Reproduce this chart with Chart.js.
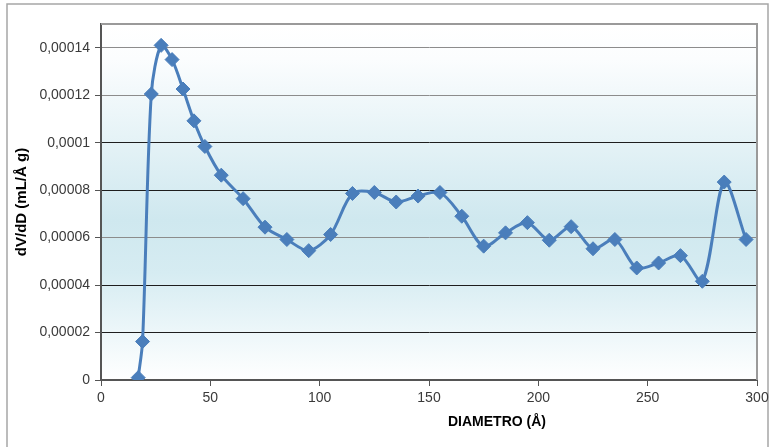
<!DOCTYPE html>
<html lang="es">
<head>
<meta charset="UTF-8" />
<title>Distribución de tamaño de poro</title>
<script src="https://cdn.jsdelivr.net/npm/chart.js"></script>
<style>
  body { margin: 0; background: #fff; }
  #caja { width: 770px; height: 447px; position: relative; }
</style>
</head>
<body>
<div id="caja"><canvas id="grafico"></canvas></div>
<script>
// Diámetro de poro (Å)
const diametro = [17, 19, 23, 27.5, 32.5, 37.5, 42.5, 47.5, 55, 65, 75, 85, 95, 105, 115, 125, 135, 145, 155, 165,
  175, 185, 195, 205, 215, 225, 235, 245, 255, 265, 275, 285, 295];
// dV/dD (mL/Å g)
const dVdD = [0.000001, 0.0000162, 0.0001205, 0.000141, 0.000135, 0.0001226, 0.0001092, 0.0000984, 0.0000863,
  0.0000764, 0.0000644, 0.0000592, 0.0000545, 0.0000613, 0.0000786, 0.000079, 0.000075, 0.0000775, 0.000079,
  0.000069, 0.0000564, 0.000062, 0.0000663, 0.0000589, 0.0000646, 0.0000553, 0.0000592, 0.0000472, 0.0000493,
  0.0000524, 0.0000416, 0.0000834, 0.0000592];
const ticksY = [0, 0.00002, 0.00004, 0.00006, 0.00008, 0.0001, 0.00012, 0.00014];
const ticksX = [0, 50, 100, 150, 200, 250, 300];

Chart.defaults.font.family = "'Liberation Sans', Arial, sans-serif";

// colores de las líneas horizontales (unas salen más oscuras que otras)
const colorRejilla = ["#444", "#1e1e1e", "#1e1e1e", "#8c8c8c", "#1e1e1e", "#1e1e1e", "#8c8c8c", "#8c8c8c"];

// fondo degradado del área de trazado y marco exterior
const fondo = {
  id: "fondo",
  beforeDraw(chart) {
    const { ctx, chartArea: a } = chart;
    ctx.save();
    ctx.fillStyle = "#fff";
    ctx.fillRect(0, 0, chart.width, chart.height);
    ctx.strokeStyle = "#a6a6a6";
    ctx.lineWidth = 1.5;
    ctx.strokeRect(7, 4, 761, 470);
    const g = ctx.createLinearGradient(0, a.top, 0, a.bottom);
    g.addColorStop(0, "#ffffff");
    g.addColorStop(0.1, "#fbfdfe");
    g.addColorStop(0.55, "#cfe8ef");
    g.addColorStop(0.7, "#d6ecf2");
    g.addColorStop(1, "#ffffff");
    ctx.fillStyle = g;
    ctx.fillRect(a.left, a.top, a.right - a.left, a.bottom - a.top);
    ctx.restore();
  },
  afterDraw(chart) {
    const { ctx, chartArea: a } = chart;
    ctx.save();
    // borde superior y derecho del área
    ctx.strokeStyle = "#9a9a9a";
    ctx.lineWidth = 2;
    ctx.beginPath();
    ctx.moveTo(a.left, a.top);
    ctx.lineTo(a.right, a.top);
    ctx.lineTo(a.right, a.bottom);
    ctx.stroke();
    // título del eje X (va desplazado a la derecha)
    ctx.fillStyle = "#000";
    ctx.font = "bold 14px 'Liberation Sans', Arial, sans-serif";
    ctx.textAlign = "center";
    ctx.textBaseline = "middle";
    ctx.fillText("DIAMETRO (Å)", 497, 422);
    ctx.restore();
  }
};

const puntos = diametro.map((d, i) => ({ x: d, y: dVdD[i] }));

new Chart(document.getElementById("grafico"), {
  type: "scatter",
  data: {
    datasets: [{
      data: puntos,
      showLine: true,
      tension: 0.3,
      borderColor: "#4a7ebb",
      borderWidth: 3,
      pointStyle: "rectRot",
      pointRadius: 7,
      pointBackgroundColor: "#4a7ebb",
      pointBorderColor: "#4a7ebb",
      pointBorderWidth: 1
    }]
  },
  options: {
    responsive: true,
    maintainAspectRatio: false,
    animation: false,
    layout: { padding: { top: 24, right: 13, left: 0, bottom: 0 } },
    plugins: { legend: { display: false }, tooltip: { enabled: false } },
    scales: {
      x: {
        type: "linear",
        min: 0,
        max: 300,
        afterBuildTicks: (s) => { s.ticks = ticksX.map(v => ({ value: v })); },
        afterFit: (s) => { s.height = 67; s.paddingRight = 0; s.paddingLeft = 0; },
        grid: { drawOnChartArea: false, tickLength: 6, tickColor: "#555", lineWidth: 1 },
        border: { color: "#555", width: 2 },
        ticks: { color: "#3a3a3a", font: { size: 14 }, padding: 4, maxRotation: 0 }
      },
      y: {
        min: 0,
        max: 0.00015,
        afterBuildTicks: (s) => { s.ticks = ticksY.map(v => ({ value: v })); },
        afterFit: (s) => { s.width = 101; s.paddingTop = 0; s.paddingBottom = 0; },
        grid: {
          color: (c) => colorRejilla[c.index] || "#444",
          lineWidth: 1,
          tickLength: 6,
          tickColor: "#555"
        },
        border: { color: "#555", width: 2 },
        ticks: {
          color: "#3a3a3a",
          font: { size: 14 },
          padding: 5,
          callback: (v) => String(v).replace(".", ",")
        },
        title: {
          display: true,
          text: "dV/dD (mL/Å g)",
          color: "#000",
          font: { size: 15, weight: "bold" },
          padding: { top: 13, bottom: 0 }
        }
      }
    }
  },
  plugins: [fondo]
});
</script>
</body>
</html>
